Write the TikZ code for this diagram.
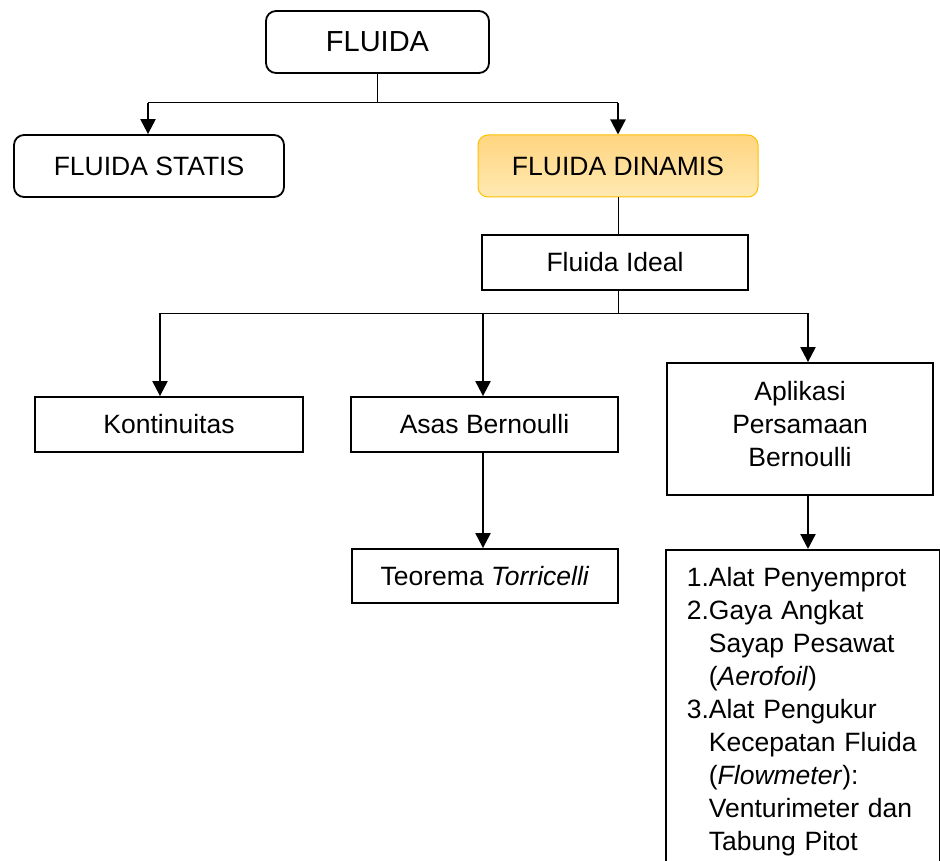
\documentclass[tikz,border=0pt]{standalone}
\usepackage{fontspec}
\setmainfont{Liberation Sans}
\usepackage{xcolor}
\usepackage{tikz}
\usetikzlibrary{arrows.meta,positioning}

\definecolor{dinamistop}{RGB}{255,213,128}
\definecolor{dinamisbot}{RGB}{255,233,178}
\definecolor{dinamisline}{RGB}{255,192,0}

\newcommand{\listnum}[1]{\makebox[22pt][l]{#1}}
\newcommand{\listind}{\hspace*{22pt}}

\begin{document}
\begin{tikzpicture}[
    x=1pt, y=-1pt,
    box/.style={rectangle, draw, line width=1.8pt, inner sep=0pt, align=center, font=\fontsize{26.5}{33}\selectfont},
    roundbox/.style={box, rounded corners=10pt},
    bus/.style={line width=1pt},
    arr/.style={line width=2.2pt, -{Triangle[width=15pt,length=15pt]}}
]
    \useasboundingbox (0,0) rectangle (940,861);
    \clip (0,0) rectangle (940,861);

    % Top level
    \node[roundbox, minimum width=223pt, minimum height=62pt, font=\fontsize{29}{35}\selectfont] (fluida) at (377.5,42) {FLUIDA};
    \node[roundbox, minimum width=270pt, minimum height=62pt] (statis) at (149,166) {FLUIDA STATIS};
    \node[roundbox, minimum width=280pt, minimum height=62pt, line width=1pt, draw=dinamisline,
        top color=dinamistop, bottom color=dinamisbot] (dinamis) at (618,166) {FLUIDA DINAMIS};

    % Second level
    \node[box, minimum width=266pt, minimum height=55pt] (ideal) at (615,262.5) {Fluida Ideal};
    \node[box, minimum width=268pt, minimum height=55pt] (kontinuitas) at (169,424.5) {Kontinuitas};
    \node[box, minimum width=267pt, minimum height=55pt] (asas) at (484.5,424.5) {Asas Bernoulli};
    \node[box, minimum width=266pt, minimum height=132pt, text depth=11pt] (aplikasi) at (800,429) {Aplikasi\\Persamaan\\Bernoulli};
    \node[box, minimum width=266pt, minimum height=54pt] (torricelli) at (485,576) {Teorema \textit{Torricelli}};

    % List of applications
    \node[box, anchor=north west, align=left, text width=231.5pt, inner xsep=21pt, inner ysep=17pt] (daftar) at (665,549) {
        \listnum{1.}Alat Penyemprot\\
        \listnum{2.}Gaya Angkat\\
        \listind Sayap Pesawat\\
        \listind(\textit{Aerofoil})\\
        \listnum{3.}Alat Pengukur\\
        \listind Kecepatan Fluida\\
        \listind(\textit{Flowmeter}):\\
        \listind Venturimeter dan\\
        \listind Tabung Pitot
    };

    % Branch points
    \coordinate (topleft) at (148,103);
    \coordinate (topright) at (618,103);
    \coordinate (midleft) at (160,313);
    \coordinate (midcenter) at (483,313);
    \coordinate (midright) at (808,313);

    % Connectors
    \draw[bus] (fluida.south) -- (fluida.south |- topleft);
    \draw[bus] (topleft) -- (topright);
    \draw[arr] (topleft) -- (topleft |- statis.north);
    \draw[arr] (topright) -- (topright |- dinamis.north);
    \draw[bus] (dinamis.south) -- (dinamis.south |- ideal.north);
    \draw[bus] (ideal.south -| dinamis.south) -- (dinamis.south |- midleft);
    \draw[bus] (midleft) -- (midright);
    \draw[arr] (midleft) -- (midleft |- kontinuitas.north);
    \draw[arr] (midcenter) -- (midcenter |- asas.north);
    \draw[arr] (midright) -- (midright |- aplikasi.north);
    \draw[arr] (asas.south -| midcenter) -- (midcenter |- torricelli.north);
    \draw[arr] (aplikasi.south -| midright) -- (midright |- daftar.north);
\end{tikzpicture}
\end{document}
